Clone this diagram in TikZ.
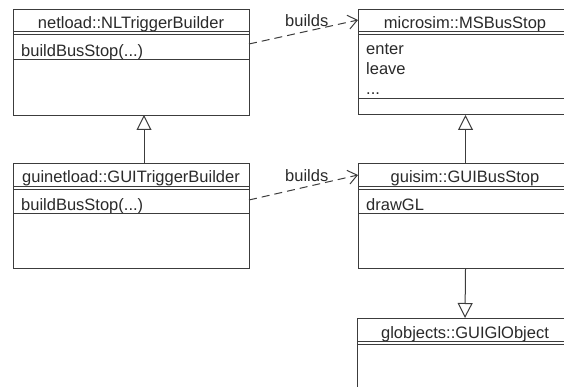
\documentclass[tikz,border=0pt]{standalone}
\usepackage{fontspec}
\setmainfont{Liberation Sans}
\usepackage{xcolor}
\usetikzlibrary{arrows.meta, positioning}

\definecolor{umlline}{HTML}{3C3C3C}
\definecolor{umlink}{HTML}{2A2A2A}

\tikzset{
  umlbox/.style={draw=umlline, line width=1pt, fill=white, anchor=north west, inner sep=0pt},
  umltitle/.style={anchor=base, inner sep=0pt, text=umlink},
  umlentry/.style={anchor=base west, inner sep=0pt, text=umlink},
  inherit/.style={draw=umlline, line width=1pt, -{Triangle[open, length=15pt, width=15pt, fill=white]}},
  builds/.style={draw=umlline, line width=1pt, dash pattern=on 8pt off 5pt, -{Straight Barb[length=9pt, width=14pt]}},
}

\begin{document}
\begin{tikzpicture}[x=1pt, y=-1pt, font=\fontsize{16.5}{20}\selectfont]
  \useasboundingbox (0,0) rectangle (564,387);
  \clip (0,0) rectangle (564,387);

  % classes
  \node[umlbox, minimum width=236pt, minimum height=106pt] (nl) at (13,9) {};
  \node[umlbox, minimum width=214pt, minimum height=105pt] (ms) at (358,9) {};
  \node[umlbox, minimum width=236pt, minimum height=105pt] (gui) at (13,163) {};
  \node[umlbox, minimum width=214pt, minimum height=105pt] (gs) at (358,163) {};
  \node[umlbox, minimum width=215pt, minimum height=90pt] (glo) at (357,318) {};

  \node[umltitle] (nltitle) at (131,29) {netload::NLTriggerBuilder};
  \node[umltitle] (mstitle) at (465,29) {microsim::MSBusStop};
  \node[umltitle] (guititle) at (131,183) {guinetload::GUITriggerBuilder};
  \node[umltitle] (gstitle) at (465,183) {guisim::GUIBusStop};
  \node[umltitle] (glotitle) at (465,338) {globjects::GUIGlObject};

  \node[umlentry] (nlbuild) at (21,57) {buildBusStop(...)};
  \node[umlentry] (msenter) at (366,55) {enter};
  \node[umlentry] (msleave) at (366,75) {leave};
  \node[umlentry] (msmore) at (366,95) {...};
  \node[umlentry] (guibuild) at (21,211) {buildBusStop(...)};
  \node[umlentry] (gsdraw) at (366,211) {drawGL};

  % compartments
  \draw[umlline, line width=1pt]
    (13,32) -- (249,32) (13,35) -- (249,35) (13,60) -- (249,60)
    (358,32) -- (572,32) (358,35) -- (572,35) (358,99) -- (572,99)
    (13,187) -- (249,187) (13,190) -- (249,190) (13,214) -- (249,214)
    (358,187) -- (572,187) (358,190) -- (572,190) (358,214) -- (572,214)
    (357,341) -- (572,341) (357,344) -- (572,344);

  % relations
  \coordinate (nlbase) at (144,115);
  \coordinate (guitop) at (144,163);
  \coordinate (nlout) at (249,44);
  \coordinate (msin) at (358,20);
  \coordinate (guiout) at (249,200);
  \coordinate (gsin) at (358,175);

  \draw[inherit] (guitop) -- (nlbase);
  \draw[inherit] (gs.north) -- (ms.south);
  \draw[inherit] (gs.south) -- (glo.north);

  \draw[builds] (nlout) -- (msin);
  \draw[builds] (guiout) -- (gsin);
  \node[umlentry] (buildsup) at (285,27) {builds};
  \node[umlentry] (buildsdown) at (285,182) {builds};
\end{tikzpicture}
\end{document}
